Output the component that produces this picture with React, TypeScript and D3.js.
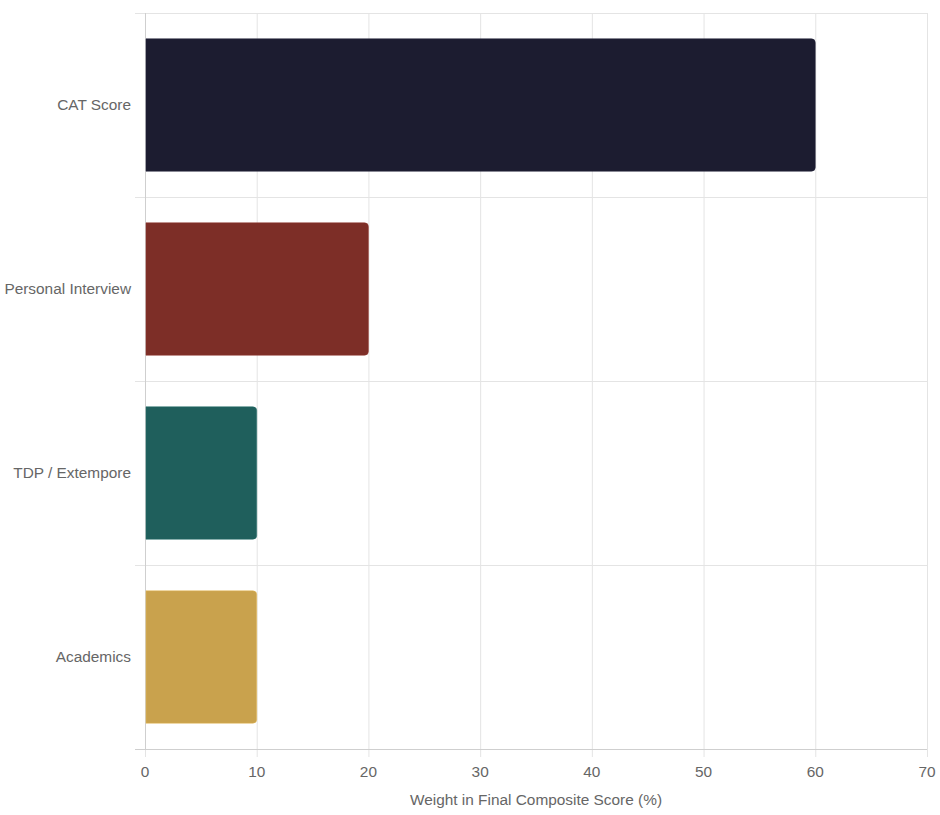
import * as d3 from 'd3';
import React, { useRef, useEffect } from 'react';

const categories = ['CAT Score', 'Personal Interview', 'TDP / Extempore', 'Academics'];
const weights = [60, 20, 10, 10];
const colors = ['#1c1c30', '#7d2e27', '#1f5f5c', '#c9a24d'];
const xTicks = [0, 10, 20, 30, 40, 50, 60, 70];
const xTitle = 'Weight in Final Composite Score (%)';

const W = 940;
const H = 815;

function BarChart() {
  const ref = useRef<SVGSVGElement>(null);

  useEffect(() => {
    const svg = d3.select(ref.current);
    svg.selectAll('*').remove();

    const left = 145, right = 927, top = 13, bottom = 749;
    const font = '"Liberation Sans", Arial, sans-serif';
    const fs = 15.4;

    const x = d3.scaleLinear().domain([0, 70]).range([left, right]);
    const y = d3.scaleBand<string>()
      .domain(categories)
      .range([top, bottom])
      .paddingInner(0.28)
      .paddingOuter(0.14);
    const step = y.step();

    // vertical grid + tick marks below axis
    svg.append('g').selectAll('line')
      .data(xTicks)
      .enter().append('line')
      .attr('x1', d => x(d) + 0.5).attr('x2', d => x(d) + 0.5)
      .attr('y1', top).attr('y2', bottom + 8)
      .attr('stroke', '#e4e4e4').attr('stroke-width', 1);

    // horizontal grid (band edges) + tick marks left of axis
    const edges = d3.range(categories.length + 1).map(i => top + i * step);
    svg.append('g').selectAll('line')
      .data(edges)
      .enter().append('line')
      .attr('x1', left - 10).attr('x2', right)
      .attr('y1', d => Math.round(d) + 0.5).attr('y2', d => Math.round(d) + 0.5)
      .attr('stroke', '#e4e4e4').attr('stroke-width', 1);

    // axis borders
    svg.append('line')
      .attr('x1', left + 0.5).attr('x2', left + 0.5)
      .attr('y1', top).attr('y2', bottom)
      .attr('stroke', '#cfcfcf');
    svg.append('line')
      .attr('x1', left - 10).attr('x2', right)
      .attr('y1', bottom + 0.5).attr('y2', bottom + 0.5)
      .attr('stroke', '#cfcfcf');

    // bars with rounded right end
    const r = 4;
    const barPath = (x0: number, x1: number, y0: number, h: number) => {
      const rr = Math.min(r, (x1 - x0) / 2, h / 2);
      return `M${x0},${y0}H${x1 - rr}Q${x1},${y0} ${x1},${y0 + rr}V${y0 + h - rr}Q${x1},${y0 + h} ${x1 - rr},${y0 + h}H${x0}Z`;
    };
    svg.append('g').selectAll('path')
      .data(categories)
      .enter().append('path')
      .attr('d', (d, i) => barPath(x(0) + 1, x(weights[i]), y(d)!, y.bandwidth()))
      .attr('fill', (d, i) => colors[i])
      .attr('stroke', (d, i) => d3.color(colors[i])!.brighter(0.4).formatHex())
      .attr('stroke-opacity', 0.5)
      .attr('stroke-width', 1);

    // y labels
    svg.append('g').selectAll('text')
      .data(categories)
      .enter().append('text')
      .attr('x', left - 14)
      .attr('y', d => y(d)! + y.bandwidth() / 2)
      .attr('dy', '0.35em')
      .attr('text-anchor', 'end')
      .attr('font-family', font)
      .attr('font-size', fs)
      .attr('fill', '#666')
      .text(d => d);

    // x tick labels
    svg.append('g').selectAll('text')
      .data(xTicks)
      .enter().append('text')
      .attr('x', d => x(d))
      .attr('y', bottom + 23)
      .attr('dy', '0.35em')
      .attr('text-anchor', 'middle')
      .attr('font-family', font)
      .attr('font-size', fs)
      .attr('fill', '#666')
      .text(d => d);

    // x title
    svg.append('text')
      .attr('x', (left + right) / 2)
      .attr('y', bottom + 51)
      .attr('dy', '0.35em')
      .attr('text-anchor', 'middle')
      .attr('font-family', font)
      .attr('font-size', fs)
      .attr('fill', '#666')
      .text(xTitle);
  }, []);

  return (
    <svg ref={ref} width={W} height={H}
      style={{ position: 'absolute', left: 0, top: 0, background: '#fff' }} />
  );
}

export default function App() {
  return <BarChart />;
}
